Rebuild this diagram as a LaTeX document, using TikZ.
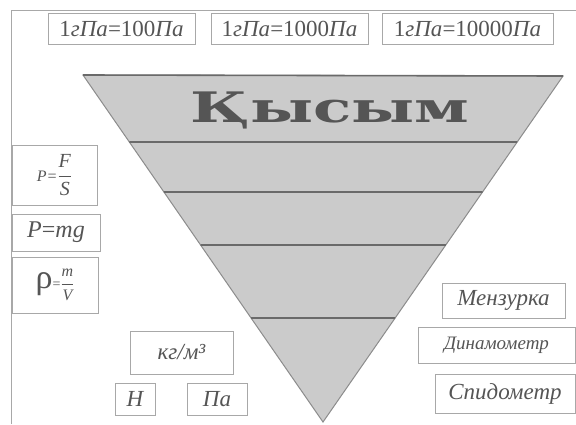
\documentclass[tikz,border=0pt]{standalone}
\usepackage{fontspec}
\usetikzlibrary{calc}
\setmainfont{Liberation Serif}
\newfontfamily\titlefont{DejaVu Serif}
\definecolor{trifill}{HTML}{CBCBCB}
\definecolor{triedge}{HTML}{8C8C8C}
\definecolor{bandline}{HTML}{6A6A6A}
\definecolor{boxline}{HTML}{A8A8A8}
\definecolor{inkgray}{HTML}{555555}
\tikzset{
  tbox/.style={draw=boxline, line width=0.8pt, text=inkgray, inner sep=0pt,
    font=\fontsize{23}{26}\selectfont\itshape},
}
\begin{document}
\begin{tikzpicture}[x=1pt, y=-1pt]
                    \useasboundingbox[fill=white] (0,0) rectangle (576,424);
                    % Frame
                    \coordinate (fb) at (11,424);
                    \coordinate (fc) at (11,10);
                    \coordinate (fr) at (576,10);
                    \draw[boxline, line width=0.8pt] (fb) -- (fc) -- (fr);
                    % Triangle
                    \coordinate (tl) at (83,75);
                    \coordinate (tr) at (563,76);
                    \coordinate (ap) at (323,422);
                    \draw[triedge, fill=trifill, line width=1pt] (tl) -- (tr) -- (ap) -- cycle;
                    \draw[bandline, line width=1.6pt] (tl) -- (tr);
                    \foreach \yy in {142,192,245,318} {
                      \draw[bandline, line width=1.6pt]
                        ($(tl)!{(\yy-75)/347}!(ap)$) -- ($(tr)!{(\yy-76)/346}!(ap)$);
                    }
                    \node[text=inkgray, font=\titlefont\bfseries\fontsize{42}{42}\selectfont,
                      xscale=1.5, inner sep=0pt] (title) at (330,110) {Қысым};
                    % Nodes
                    \node[tbox, minimum width=147, minimum height=31] (u1) at (121.5,28.5)
                      {\upshape 1\textit{гПа}=100\textit{Па}};
                    \node[tbox, minimum width=157, minimum height=31] (u2) at (289.5,28.5)
                      {\upshape 1\textit{гПа}=1000\textit{Па}};
                    \node[tbox, minimum width=171, minimum height=31] (u3) at (467.5,28.5)
                      {\upshape 1\textit{гПа}=10000\textit{Па}};
                    \node[tbox, minimum width=85, minimum height=60] (f1) at (54.5,175)
                      {\fontsize{16}{18}\selectfont\textit{Р}=\fontsize{20}{22}\selectfont$\displaystyle\frac{\textit{F}}{\textit{S}}$};
                    \node[tbox, minimum width=88, minimum height=37] (f2) at (56,232.5)
                      {\fontsize{24}{26}\selectfont\textit{P}\upshape =\textit{mg}};
                    \node[tbox, minimum width=86, minimum height=56] (f3) at (55,285)
                      {\upshape\fontsize{34}{36}\selectfont ρ\fontsize{14}{16}\selectfont =\fontsize{16}{18}\selectfont$\displaystyle\frac{\textit{m}}{\textit{V}}$};
                    \node[tbox, minimum width=123, minimum height=35] (d1) at (503.5,300.5)
                      {Мензурка};
                    \node[tbox, minimum width=157, minimum height=36] (d2) at (496.5,345)
                      {\fontsize{19}{21}\selectfont Динамометр};
                    \node[tbox, minimum width=140, minimum height=39] (d3) at (505,393.5)
                      {Спидометр};
                    \node[tbox, minimum width=103, minimum height=43] (k1) at (181.5,352.5)
                      {кг/м³};
                    \node[tbox, minimum width=40, minimum height=32] (k2) at (135,399)
                      {Н};
                    \node[tbox, minimum width=60, minimum height=32] (k3) at (217,399)
                      {Па};
                \end{tikzpicture}
\end{document}
